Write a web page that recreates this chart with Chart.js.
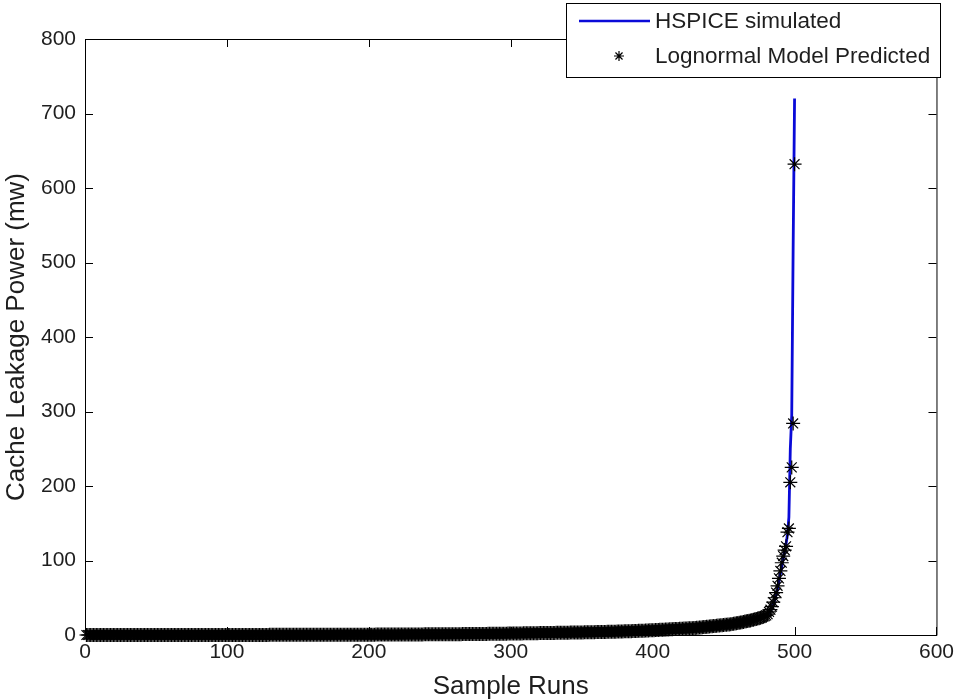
<!DOCTYPE html>
<html>
<head>
<meta charset="utf-8">
<script src="https://cdn.jsdelivr.net/npm/chart.js@4.4.1/dist/chart.umd.min.js"></script>
<style>
  html, body { margin: 0; padding: 0; background: #fff; }
  canvas { display: block; }
</style>
</head>
<body>
<canvas id="leak" width="959" height="700"></canvas>
<script>
// sorted leakage of samples 1..480 (both curves lie on top of each other here)
const bodyValues = [
  0.00,0.00,0.00,0.01,0.01,0.01,0.01,0.01,0.01,0.01,0.01,0.01,0.01,0.01,0.01,0.02,0.02,0.02,0.02,0.02,
  0.02,0.02,0.02,0.02,0.02,0.02,0.02,0.02,0.02,0.02,0.03,0.03,0.03,0.03,0.03,0.03,0.03,0.03,0.03,0.03,
  0.03,0.03,0.03,0.04,0.04,0.04,0.04,0.04,0.04,0.04,0.04,0.04,0.04,0.05,0.05,0.05,0.05,0.05,0.05,0.05,
  0.05,0.05,0.06,0.06,0.06,0.06,0.06,0.06,0.06,0.07,0.07,0.07,0.07,0.07,0.07,0.07,0.08,0.08,0.08,0.08,
  0.08,0.08,0.08,0.08,0.08,0.09,0.09,0.09,0.09,0.09,0.09,0.09,0.09,0.10,0.10,0.10,0.10,0.10,0.10,0.10,
  0.10,0.10,0.11,0.11,0.11,0.11,0.11,0.12,0.12,0.12,0.12,0.12,0.13,0.13,0.13,0.13,0.14,0.14,0.14,0.14,
  0.14,0.15,0.15,0.15,0.15,0.16,0.16,0.16,0.16,0.17,0.17,0.17,0.17,0.18,0.18,0.18,0.19,0.19,0.19,0.20,
  0.20,0.20,0.20,0.21,0.21,0.21,0.22,0.22,0.22,0.23,0.23,0.23,0.24,0.24,0.25,0.25,0.25,0.26,0.26,0.27,
  0.27,0.27,0.28,0.28,0.29,0.29,0.30,0.30,0.30,0.31,0.31,0.32,0.32,0.33,0.33,0.34,0.34,0.35,0.35,0.36,
  0.36,0.37,0.37,0.38,0.38,0.39,0.39,0.40,0.40,0.41,0.42,0.42,0.43,0.43,0.44,0.45,0.45,0.46,0.47,0.47,
  0.48,0.49,0.49,0.50,0.51,0.51,0.52,0.53,0.54,0.54,0.55,0.56,0.57,0.58,0.58,0.59,0.60,0.61,0.62,0.63,
  0.64,0.65,0.66,0.67,0.68,0.69,0.70,0.71,0.72,0.73,0.74,0.75,0.76,0.78,0.79,0.80,0.81,0.82,0.84,0.85,
  0.86,0.87,0.88,0.89,0.90,0.91,0.92,0.93,0.94,0.95,0.96,0.97,0.98,0.99,1.00,1.01,1.02,1.04,1.05,1.07,
  1.10,1.12,1.14,1.15,1.17,1.19,1.20,1.22,1.24,1.25,1.27,1.29,1.30,1.32,1.34,1.36,1.38,1.40,1.42,1.44,
  1.46,1.48,1.50,1.52,1.54,1.56,1.58,1.60,1.63,1.65,1.67,1.70,1.72,1.75,1.77,1.80,1.83,1.86,1.89,1.92,
  1.95,1.98,2.01,2.04,2.07,2.10,2.13,2.16,2.19,2.22,2.25,2.28,2.31,2.34,2.37,2.40,2.43,2.46,2.49,2.52,
  2.55,2.58,2.61,2.64,2.67,2.70,2.73,2.76,2.79,2.82,2.85,2.88,2.91,2.94,2.97,3.00,3.03,3.06,3.10,3.13,
  3.16,3.20,3.23,3.27,3.30,3.34,3.37,3.41,3.45,3.48,3.52,3.56,3.60,3.64,3.68,3.72,3.76,3.80,3.84,3.88,
  3.92,3.96,4.00,4.05,4.09,4.14,4.18,4.23,4.28,4.33,4.38,4.43,4.48,4.53,4.59,4.64,4.70,4.76,4.82,4.88,
  4.94,5.00,5.07,5.13,5.20,5.27,5.34,5.41,5.48,5.56,5.63,5.71,5.79,5.87,5.95,6.04,6.12,6.21,6.30,6.40,
  6.5,6.6,6.7,6.8,6.9,7.0,7.1,7.2,7.3,7.4,7.5,7.6,7.7,7.8,7.9,8.0,8.1,8.2,8.3,8.4,
  8.5,8.6,8.7,8.8,8.9,9.0,9.1,9.2,9.4,9.5,9.7,9.8,10.0,10.2,10.4,10.6,10.8,11.0,11.2,11.4,
  11.6,11.8,12.0,12.2,12.4,12.6,12.8,13.0,13.2,13.4,13.6,13.8,14.0,14.2,14.5,14.8,15.1,15.4,15.7,16.0,
  16.4,16.8,17.2,17.6,18.0,18.4,18.8,19.2,19.6,20.0,20.5,21.0,21.5,22.0,22.6,23.2,23.8,24.5,25.3,26.2
];
// samples 481..500
const hspiceTail = [27, 29, 32, 36, 41, 47, 54, 62, 72, 82, 92, 102, 112, 122, 135, 158, 250, 295, 520, 720];
const lognormalTail = [28, 31, 34, 38, 44, 50, 57, 66, 76, 86, 97, 106, 114, 119, 138, 143, 205, 225, 284, 632];

const xTicks = [0, 100, 200, 300, 400, 500, 600];
const yTicks = [0, 100, 200, 300, 400, 500, 600, 700, 800];

const hspice = bodyValues.concat(hspiceTail);
const lognormal = bodyValues.concat(lognormalTail);
const toPoints = arr => arr.map((v, i) => ({ x: i + 1, y: v }));

const FONT = 'Arial, "Liberation Sans", Helvetica, sans-serif';
const TXT = '#1e1e1e';
const BLUE = '#0a0ad8';

// MATLAB-like box: top/right border, inward ticks, legend box
const matlabFrame = {
  id: 'matlabFrame',
  afterDraw(chart) {
    const { ctx, chartArea: a, scales } = chart;
    ctx.save();
    ctx.strokeStyle = '#000';
    ctx.lineWidth = 1;
    ctx.beginPath();
    ctx.moveTo(a.left + 0.5, a.top + 0.5);
    ctx.lineTo(a.right + 0.5, a.top + 0.5);
    ctx.lineTo(a.right + 0.5, a.bottom + 0.5);
    ctx.lineTo(a.left + 0.5, a.bottom + 0.5);
    ctx.closePath();
    const tl = 8;
    xTicks.forEach(t => {
      const px = Math.round(scales.x.getPixelForValue(t)) + 0.5;
      ctx.moveTo(px, a.bottom); ctx.lineTo(px, a.bottom - tl);
      ctx.moveTo(px, a.top); ctx.lineTo(px, a.top + tl);
    });
    yTicks.forEach(t => {
      const py = Math.round(scales.y.getPixelForValue(t)) + 0.5;
      ctx.moveTo(a.left, py); ctx.lineTo(a.left + tl, py);
      ctx.moveTo(a.right, py); ctx.lineTo(a.right - tl, py);
    });
    ctx.stroke();

    // legend
    const lx = 566, ly = 3, lw = 374, lh = 74;
    ctx.fillStyle = '#fff';
    ctx.fillRect(lx, ly, lw, lh);
    ctx.strokeRect(lx + 0.5, ly + 0.5, lw, lh);
    ctx.strokeStyle = BLUE;
    ctx.lineWidth = 2.5;
    ctx.beginPath();
    ctx.moveTo(579, 21); ctx.lineTo(650, 21);
    ctx.stroke();
    ctx.strokeStyle = '#000';
    ctx.lineWidth = 1.2;
    ctx.beginPath();
    const r = 5;
    for (let k = 0; k < 4; k++) {
      const ang = k * Math.PI / 4;
      ctx.moveTo(619 - r * Math.cos(ang), 56 - r * Math.sin(ang));
      ctx.lineTo(619 + r * Math.cos(ang), 56 + r * Math.sin(ang));
    }
    ctx.stroke();
    ctx.fillStyle = TXT;
    ctx.font = '22.5px ' + FONT;
    ctx.textBaseline = 'middle';
    ctx.textAlign = 'left';
    ctx.fillText('HSPICE simulated', 655, 22);
    ctx.fillText('Lognormal Model Predicted', 655, 57);
    ctx.restore();
  }
};

new Chart(document.getElementById('leak'), {
  type: 'scatter',
  data: {
    datasets: [
      {
        label: 'HSPICE simulated',
        data: toPoints(hspice),
        showLine: true,
        borderColor: BLUE,
        borderWidth: 2.8,
        pointRadius: 0,
        order: 2
      },
      {
        label: 'Lognormal Model Predicted',
        data: toPoints(lognormal),
        showLine: false,
        pointStyle: 'star',
        pointRadius: 7,
        pointBorderWidth: 1.2,
        pointBorderColor: '#000',
        pointBackgroundColor: '#000',
        clip: false,
        order: 1
      }
    ]
  },
  options: {
    responsive: false,
    animation: false,
    events: [],
    layout: { padding: { top: 39, right: 20, left: 0, bottom: 0 } },
    plugins: {
      legend: { display: false },
      tooltip: { enabled: false }
    },
    scales: {
      x: {
        type: 'linear',
        min: 0,
        max: 600,
        afterFit: s => { s.height = 65; },
        afterBuildTicks: s => { s.ticks = xTicks.map(v => ({ value: v })); },
        grid: { display: false, drawTicks: false },
        border: { display: true, color: '#000' },
        ticks: { color: TXT, font: { size: 21, family: FONT }, padding: 5, maxRotation: 0 },
        title: { display: true, text: 'Sample Runs', color: TXT, font: { size: 26, family: FONT, lineHeight: 1 }, padding: { top: 0, bottom: 0 } }
      },
      y: {
        type: 'linear',
        min: 0,
        max: 800,
        afterFit: s => { s.width = 85; },
        afterBuildTicks: s => { s.ticks = yTicks.map(v => ({ value: v })); },
        grid: { display: false, drawTicks: false },
        border: { display: true, color: '#000' },
        ticks: { color: TXT, font: { size: 21, family: FONT }, padding: 9 },
        title: { display: true, text: 'Cache Leakage Power (mw)', color: TXT, font: { size: 26, family: FONT, lineHeight: 1 }, padding: { top: 4, bottom: 0 } }
      }
    }
  },
  plugins: [matlabFrame]
});
</script>
</body>
</html>
